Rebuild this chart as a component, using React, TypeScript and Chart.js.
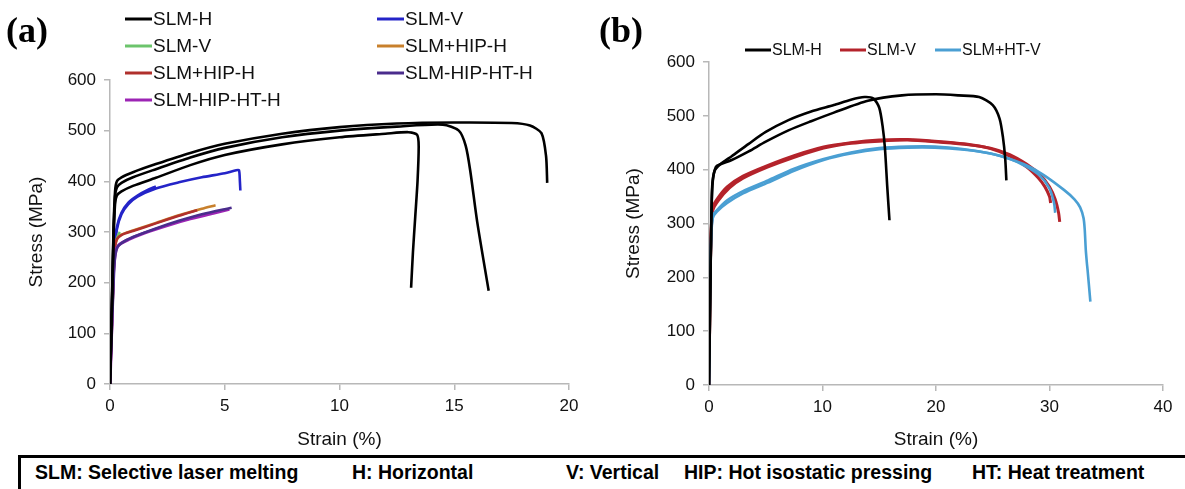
import React, { useEffect, useRef } from "react";
import { Chart, registerables } from "chart.js";

Chart.register(...registerables);

// ---------- Panel (a) data ----------
const aTitleX = "Strain (%)";
const aTitleY = "Stress (MPa)";
const aLegendLabels = ["SLM-H", "SLM-V", "SLM-V", "SLM+HIP-H", "SLM+HIP-H", "SLM-HIP-HT-H", "SLM-HIP-HT-H"];
const aLegendColors = ["#000000", "#2424c8", "#6cc46c", "#c8802c", "#b0302c", "#4a2c8c", "#9c24b4"];

const aH1Strain = [0, 0.08, 0.15, 0.22, 0.3, 0.5, 1, 2, 3.5, 5, 7.5, 10, 12.5, 15, 17.5, 18.3, 18.8, 19.0, 19.05];
const aH1Stress = [0, 150, 300, 380, 400, 408, 418, 434, 456, 474, 494, 507, 514, 516, 515, 510, 495, 450, 397];
const aH2Strain = [0, 0.08, 0.15, 0.22, 0.3, 0.5, 1, 2, 3.5, 5, 7.5, 10, 12.5, 14.5, 15.2, 15.5, 15.7, 16.0, 16.5];
const aH2Stress = [0, 150, 290, 370, 388, 397, 408, 424, 447, 466, 487, 500, 508, 512, 500, 470, 420, 320, 184];
const aH3Strain = [0, 0.08, 0.15, 0.22, 0.3, 0.5, 1, 2, 3.5, 5, 7.5, 10, 12, 13, 13.38, 13.45, 13.4, 13.3, 13.2, 13.12];
const aH3Stress = [0, 140, 280, 355, 372, 380, 391, 407, 432, 452, 473, 487, 494, 497, 492, 470, 400, 330, 260, 190];
const aV1Strain = [0, 0.1, 0.2, 0.3, 0.5, 0.8, 1.2, 1.6, 2.0];
const aV1Stress = [0, 150, 270, 310, 338, 358, 372, 382, 390];
const aV2Strain = [0, 0.1, 0.2, 0.3, 0.5, 0.8, 1.2, 2, 3, 4, 5, 5.5, 5.62, 5.66, 5.68];
const aV2Stress = [0, 150, 265, 305, 335, 355, 370, 386, 398, 408, 416, 422, 422, 400, 382];
const aVgStrain = [0.28, 0.33, 0.38, 0.43];
const aVgStress = [284, 291, 296, 300];
const aHipOStrain = [0, 0.1, 0.2, 0.3, 0.5, 1, 2, 3, 4, 4.6];
const aHipOStress = [0, 140, 260, 285, 295, 303, 318, 333, 346, 353];
const aHipRStrain = [0, 0.1, 0.2, 0.3, 0.5, 1, 2, 3, 3.8];
const aHipRStress = [0, 140, 262, 286, 294, 302, 317, 332, 343];
const aHtPStrain = [0, 0.1, 0.2, 0.3, 0.5, 1, 2, 3, 4, 5.3];
const aHtPStress = [0, 130, 240, 268, 278, 290, 307, 322, 335, 348];
const aHtMStrain = [0, 0.08, 0.15, 0.25, 0.4, 0.8, 1.5, 2.5, 3.5, 4.5, 5.2];
const aHtMStress = [0, 120, 220, 262, 275, 285, 298, 313, 326, 337, 345];

// ---------- Panel (b) data ----------
const bLegendLabels = ["SLM-H", "SLM-V", "SLM+HT-V"];
const bLegendColors = ["#000000", "#b4232b", "#4a9fd3"];

const bH1Strain = [0, 0.1, 0.2, 0.3, 0.5, 1, 2, 3.5, 5, 7, 9, 11, 12.5, 13.7, 14.5, 15.0, 15.3, 15.5, 15.7, 15.9];
const bH1Stress = [0, 150, 300, 370, 398, 410, 425, 448, 470, 492, 508, 520, 530, 535, 532, 515, 480, 440, 370, 306];
const bH2Strain = [0, 0.1, 0.2, 0.3, 0.6, 1, 2, 3.5, 5, 7, 9, 11, 14, 17, 20, 22, 23.8, 25, 25.6, 25.9, 26.1, 26.2];
const bH2Stress = [0, 150, 300, 375, 405, 410, 418, 434, 452, 473, 490, 506, 528, 538, 540, 538, 535, 520, 495, 460, 420, 380];
const bV1Strain = [0, 0.05, 0.1, 0.2, 0.33, 0.7, 1.6, 3, 5.2, 7.5, 10.1, 12.5, 15, 17.5, 19.9, 22.5, 24.8, 26.5, 28, 29, 29.6, 30, 30.1];
const bV1Stress = [0, 100, 200, 290, 330, 345, 368, 388, 408, 426, 442, 450, 455, 456, 453, 448, 439, 425, 405, 385, 368, 350, 338];
const bV2Strain = [0, 0.05, 0.1, 0.2, 0.35, 0.8, 1.8, 3, 5.2, 7.5, 10.1, 12.5, 15, 17.5, 19.9, 22.5, 24.8, 26.5, 28, 29.2, 30, 30.5, 30.8, 30.9];
const bV2Stress = [0, 100, 200, 285, 325, 342, 366, 384, 405, 423, 440, 449, 453, 455, 452, 447, 440, 428, 410, 390, 368, 345, 320, 303];
const bT1Strain = [0, 0.05, 0.1, 0.2, 0.33, 0.7, 1.6, 3, 5.2, 7.5, 10.1, 12.5, 15, 17.5, 19.9, 22.5, 24.8, 26.5, 28, 29.5, 31.3, 32.2, 32.7, 33.0, 33.1, 33.2, 33.3, 33.35, 33.6];
const bT1Stress = [0, 100, 200, 280, 315, 325, 343, 360, 380, 402, 420, 432, 440, 443, 443, 438, 430, 420, 408, 390, 362, 345, 330, 310, 290, 250, 225, 215, 155];
const bT2Strain = [0, 0.05, 0.1, 0.2, 0.33, 0.7, 1.6, 3, 5.2, 7.5, 10.1, 12.5, 15, 17.5, 19.9, 22.5, 24.8, 26.5, 28, 29.2, 30, 30.4, 30.5];
const bT2Stress = [0, 100, 200, 275, 310, 322, 338, 356, 376, 398, 418, 430, 438, 441, 441, 437, 430, 420, 405, 388, 365, 338, 320];

// ---------- Footer ----------
const footerItems = ["SLM: Selective laser melting", "H: Horizontal", "V: Vertical", "HIP: Hot isostatic pressing", "HT: Heat treatment"];
const footerX = [35, 352, 566, 684, 972];

const SANS = "'Liberation Sans', Arial, sans-serif";

function pts(xs: number[], ys: number[]) {
  return xs.map((x, i) => ({ x, y: ys[i] }));
}

function line(xs: number[], ys: number[], color: string, width = 2.6) {
  return {
    data: pts(xs, ys),
    showLine: true,
    borderColor: color,
    backgroundColor: color,
    borderWidth: width,
    pointRadius: 0,
    tension: 0.25,
    fill: false,
  };
}

type LegendPos = { x: number; y: number; label: string; color: string };

function decorPlugin(panel: string, panelX: number, panelY: number, legend: LegendPos[], font: number, lineLen: number) {
  return {
    id: "decor",
    afterDraw(chart: any) {
      const ctx = chart.ctx;
      ctx.save();
      ctx.fillStyle = "#000";
      ctx.font = `bold 36px 'Liberation Serif', 'Times New Roman', serif`;
      ctx.textBaseline = "alphabetic";
      ctx.textAlign = "left";
      ctx.fillText(panel, panelX, panelY);
      ctx.font = `${font}px ${SANS}`;
      ctx.textBaseline = "middle";
      for (const it of legend) {
        ctx.strokeStyle = it.color;
        ctx.lineWidth = 3;
        ctx.beginPath();
        ctx.moveTo(it.x, it.y);
        ctx.lineTo(it.x + lineLen, it.y);
        ctx.stroke();
        ctx.fillStyle = "#111";
        ctx.fillText(it.label, it.x + lineLen + 1, it.y + 1);
      }
      ctx.restore();
    },
  };
}

function axisCommon(min: number, max: number, step: number, title: string, isY: boolean, titlePad: any) {
  return {
    type: "linear",
    min,
    max,
    ticks: { stepSize: step, color: "#111", font: { size: 17, family: SANS }, padding: isY ? 8 : 6 },
    grid: { drawOnChartArea: false, drawTicks: true, tickLength: 6, color: "#b8b8b8", lineWidth: 1.5 },
    border: { display: true, color: "#b8b8b8", width: 1.5 },
    title: { display: true, text: title, color: "#111", font: { size: 19, family: SANS }, padding: titlePad },
  };
}

function StressChart(props: { which: "a" | "b"; left: number; width: number; height: number }) {
  const ref = useRef<HTMLCanvasElement | null>(null);
  useEffect(() => {
    const canvas = ref.current;
    if (!canvas) return;
    let datasets: any[];
    let options: any;
    let plugin: any;
    if (props.which === "a") {
      datasets = [
        line(aH1Strain, aH1Stress, aLegendColors[0]),
        line(aH2Strain, aH2Stress, aLegendColors[0]),
        line(aH3Strain, aH3Stress, aLegendColors[0]),
        line(aHtPStrain, aHtPStress, aLegendColors[5]),
        line(aHtMStrain, aHtMStress, aLegendColors[6], 3.2),
        line(aHipRStrain, aHipRStress, aLegendColors[4]),
        line(aHipOStrain, aHipOStress, aLegendColors[3]),
        line(aVgStrain, aVgStress, aLegendColors[2]),
        line(aV1Strain, aV1Stress, aLegendColors[1]),
        line(aV2Strain, aV2Stress, aLegendColors[1]),
      ];
      const colX = [125, 377];
      const rowY = [19, 46, 73, 100];
      const legend: LegendPos[] = aLegendLabels.map((label, i) => ({
        x: colX[i % 2],
        y: rowY[Math.floor(i / 2)],
        label,
        color: aLegendColors[i],
      }));
      plugin = decorPlugin("(a)", 6, 42, legend, 19, 27);
      options = {
        layout: { padding: { top: 80, right: 26, left: 0, bottom: 0 } },
        scales: {
          x: {
            ...axisCommon(0, 20, 5, aTitleX, false, { top: 0, bottom: 1 }),
            afterFit: (s: any) => { s.height = props.height - 384; },
          },
          y: {
            ...axisCommon(0, 600, 100, aTitleY, true, { top: 25, bottom: 0 }),
            afterFit: (s: any) => { s.width = 110; },
          },
        },
      };
    } else {
      datasets = [
        line(bH1Strain, bH1Stress, bLegendColors[0]),
        line(bH2Strain, bH2Stress, bLegendColors[0]),
        line(bT1Strain, bT1Stress, bLegendColors[2]),
        line(bT2Strain, bT2Stress, bLegendColors[2]),
        line(bV1Strain, bV1Stress, bLegendColors[1], 3),
        line(bV2Strain, bV2Stress, bLegendColors[1], 3),
      ];
      const legX = [150, 245, 340];
      const legend: LegendPos[] = bLegendLabels.map((label, i) => ({
        x: legX[i],
        y: 50,
        label,
        color: bLegendColors[i],
      }));
      plugin = decorPlugin("(b)", 4, 42, legend, 16, 26);
      options = {
        layout: { padding: { top: 62, right: 22, left: 0, bottom: 0 } },
        scales: {
          x: {
            ...axisCommon(0, 40, 10, aTitleX, false, { top: 0, bottom: 1 }),
            afterFit: (s: any) => { s.height = props.height - 385; },
          },
          y: {
            ...axisCommon(0, 600, 100, aTitleY, true, { top: 27, bottom: 0 }),
            afterFit: (s: any) => { s.width = 114; },
          },
        },
      };
    }
    const chart = new Chart(canvas, {
      type: "scatter",
      data: { datasets },
      options: {
        ...options,
        animation: false,
        responsive: false,
        devicePixelRatio: 1,
        plugins: { legend: { display: false }, tooltip: { enabled: false } },
      },
      plugins: [plugin],
    } as any);
    return () => chart.destroy();
  }, [props.which]);
  return (
    <canvas
      ref={ref}
      width={props.width}
      height={props.height}
      style={{ position: "absolute", left: props.left, top: 0, width: props.width, height: props.height }}
    />
  );
}

export default function App() {
  return (
    <div style={{ position: "fixed", left: 0, top: 0, width: 1185, height: 489, background: "#fff", overflow: "hidden" }}>
      <StressChart which="a" left={0} width={595} height={452} />
      <StressChart which="b" left={595} width={590} height={452} />
      <div
        style={{
          position: "absolute",
          left: 18,
          top: 455,
          width: 1200,
          height: 40,
          border: "3px solid #000",
          boxSizing: "border-box",
        }}
      />
      {footerItems.map((t, i) => (
        <div
          key={t}
          style={{
            position: "absolute",
            left: footerX[i],
            top: 462,
            fontFamily: SANS,
            fontWeight: "bold",
            fontSize: 19.5,
            lineHeight: "20px",
            color: "#000",
            whiteSpace: "nowrap",
          }}
        >
          {t}
        </div>
      ))}
    </div>
  );
}
